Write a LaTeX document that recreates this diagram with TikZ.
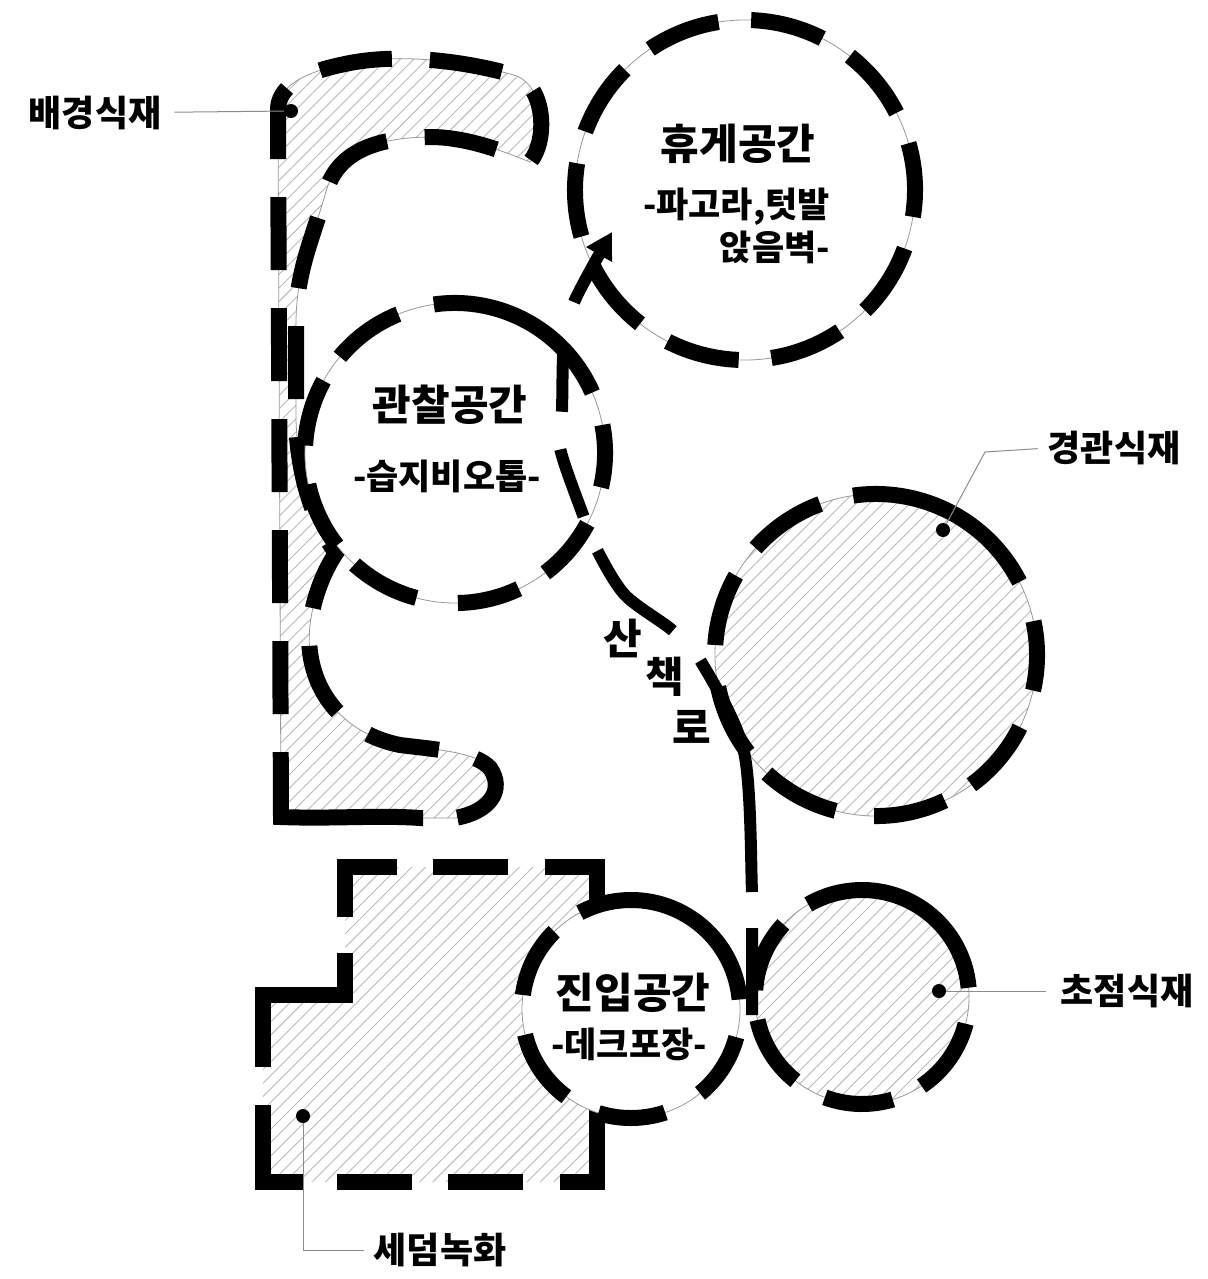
\documentclass[tikz,border=0pt]{standalone}
\usepackage{fontspec}
\IfFontExistsTF{Noto Sans CJK KR Black}
  {\newfontfamily\krb{Noto Sans CJK KR Black}}
  {\newfontfamily\krb{Noto Sans CJK KR Bold}}
\usetikzlibrary{patterns.meta,arrows.meta}
\tikzset{
  hatch/.style={pattern={Lines[angle=45,distance=9.5pt,line width=0.9pt]},pattern color=black!27},
  rim/.style={draw=black!40,line width=0.8pt,solid},
  zone/.style={draw=black,line width=16pt,line join=miter},
  openzone/.style={zone,preaction={fill=white},preaction={rim}},
  hatchzone/.style={zone,preaction={hatch},preaction={rim}},
  ring/.style={circle,inner sep=0pt,outer sep=0pt,minimum size=#1},
  title/.style={font=\krb\fontsize{42pt}{46pt}\selectfont,inner sep=0pt},
  subtitle/.style={font=\krb\fontsize{35pt}{38pt}\selectfont,inner sep=0pt},
  tag/.style={font=\krb\fontsize{36pt}{40pt}\selectfont,inner sep=0pt},
  leader/.style={draw=black!45,line width=1pt},
  dot/.style={circle,fill=black,inner sep=0pt,minimum size=14pt},
  walk/.style={draw=black,line width=12pt,-{Triangle[length=26pt,width=28pt]}},
}
\begin{document}
\begin{tikzpicture}[x=1pt,y=-1pt]
\fill[white] (0,0) rectangle (1207,1279);
\path[use as bounding box] (0,0) rectangle (1207,1279);

% background planting band
\path[hatchzone, dash pattern=on 0pt off 32pt on 207pt off 38pt on 73pt off 38pt on 73pt off 38pt on 73pt off 38pt on 73pt off 38pt on 73pt off 38pt on 73pt off 38pt on 73pt off 38pt on 73pt off 38pt on 73pt off 38pt on 73pt off 38pt on 73pt off 38pt on 73pt off 38pt on 73pt off 38pt on 73pt off 38pt on 73pt off 38pt on 73pt off 38pt on 73pt off 38pt on 90pt off 38pt]
  (455,818) -- (420,818) .. controls (380,815) and (330,819) .. (281,817)
  -- (278,110)
  .. controls (278,88) and (300,73) .. (345,64)
  .. controls (400,52) and (470,62) .. (517,76)
  .. controls (545,88) and (548,140) .. (530,162)
  .. controls (505,152) and (470,138) .. (433,137)
  .. controls (370,137) and (335,155) .. (325,195)
  .. controls (312,240) and (297,270) .. (296,320)
  -- (296,420)
  .. controls (298,480) and (315,525) .. (336,553)
  .. controls (318,580) and (306,620) .. (310,652)
  .. controls (316,700) and (350,735) .. (400,745)
  .. controls (440,750) and (475,752) .. (490,768)
  .. controls (505,790) and (490,812) .. (455,818)
  -- cycle;

% circles
\node[ring=300pt, openzone, rotate=24, dash pattern=on 194pt off 37pt on 73pt off 29pt on 68pt off 39pt on 68pt off 26pt on 71pt off 42pt on 63pt off 31pt on 65pt off 39pt on 63pt off 34pt] (obs) at (455,453) {};
\node[ring=340pt, openzone, rotate=-9, dash pattern=on 74pt off 32.8pt] (rest) at (745,190) {};
\node[ring=322pt, hatchzone, rotate=27, dash pattern=on 200pt off 34pt on 79pt off 34pt on 73pt off 42pt on 73pt off 28pt on 79pt off 39pt on 73pt off 31pt on 76pt off 39pt on 70pt off 42pt] (land) at (876,655) {};

% sedum area
\coordinate (s1) at (597,912);
\coordinate (s2) at (597,867);
\coordinate (s3) at (345,867);
\coordinate (s4) at (345,995);
\coordinate (s5) at (263,995);
\coordinate (s6) at (263,1182);
\coordinate (s7) at (597,1182);
\coordinate (s8) at (597,1108);
\path[hatch] (s2) -- (s3) -- (s4) -- (s5) -- (s6) -- (s7) -- cycle;
\draw[zone, dash pattern=on 97pt off 37pt on 75pt off 36pt on 102pt off 36pt on 196pt off 38pt on 117pt off 34pt on 75pt off 36pt on 75pt off 37pt on 111pt off 60pt]
  (s1) -- (s2) -- (s3) -- (s4) -- (s5) -- (s6) -- (s7) -- (s8);

\node[ring=218pt, openzone, rotate=6, dash pattern=on 213pt off 32pt on 72pt off 40pt on 76pt off 36pt on 68pt off 40pt on 68pt off 38pt] (entr) at (631,1009) {};
\node[ring=214pt, hatchzone, rotate=5, dash pattern=on 215pt off 32pt on 73pt off 30pt on 73pt off 34pt on 69pt off 32pt on 78pt off 37pt] (focal) at (862,997) {};

% walking path
\coordinate (wA) at (752,1015);
\coordinate (wN) at (612,232);
\draw[walk, dash pattern=on 87pt off 36pt on 242pt off 41pt on 112pt off 37pt on 71pt off 38pt on 68pt off 43pt on 300pt off 10pt]
  plot[smooth,tension=0.5] coordinates {(wA) (752,928) (752,892) (744,752) (700,660) (672,630) (625,595) (597,550) (583,515) (560,448) (562,410) (564,342) (575,300) (wN)};

% texts
\node[title] (restT) at (738,144) {휴게공간};
\node[subtitle, anchor=east] (restS1) at (830,207) {-파고라,텃발};
\node[subtitle, anchor=east] (restS2) at (830,247) {앉음벽-};
\node[title] (obsT) at (450,405) {관찰공간};
\node[subtitle] (obsS) at (447,476) {-습지비오톱-};
\node[title] (entT) at (633,993) {진입공간};
\node[subtitle] (entS) at (629,1044) {-데크포장-};
\node[title] (w1) at (623,638) {산};
\node[title] (w2) at (665,677) {책};
\node[title] (w3) at (692,727) {로};

% labels
\node[tag] (bgL) at (95,113) {배경식재};
\node[dot] (bgD) at (291,111) {};
\draw[leader, shorten <=13pt] (bgL) -- (bgD);

\node[tag] (lsL) at (1114,448) {경관식재};
\coordinate (lsK) at (985,452);
\node[dot] (lsD) at (943,530) {};
\draw[leader, shorten <=10pt] (lsL.west) -- (lsK) -- (lsD);

\node[tag] (fcL) at (1127,991) {초점식재};
\node[dot] (fcD) at (939,991) {};
\draw[leader, shorten <=15pt] (fcL.west) -- (fcD);

\node[tag] (sdL) at (440,1250) {세덤녹화};
\node[dot] (sdD) at (303,1116) {};
\draw[leader, shorten >=10pt] (sdD) |- (sdL.west);
\end{tikzpicture}
\end{document}
